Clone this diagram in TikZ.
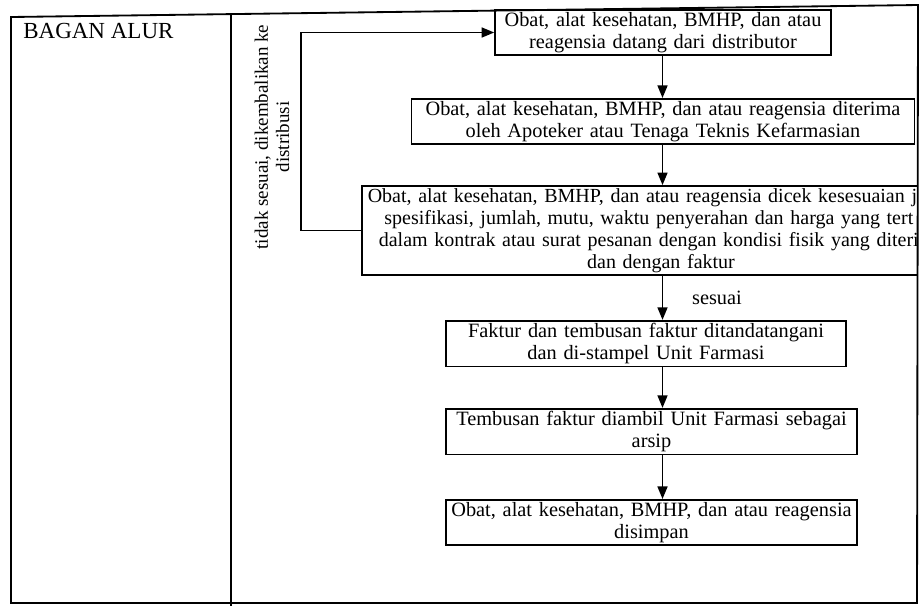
\documentclass[tikz,border=0pt]{standalone}
\usepackage{fontspec}
\setmainfont{Liberation Serif}
\usetikzlibrary{arrows.meta,positioning}

\tikzset{
  langkah/.style={draw, line width=1pt, align=center, inner xsep=2pt,
    inner ysep=1.5pt, font=\fontsize{12.2}{13.2}\selectfont},
  panah/.style={-{Triangle[length=7.5pt,width=6pt]}, line width=0.9pt},
}

\begin{document}
\begin{tikzpicture}[x=0.6pt,y=-0.6pt]
  \useasboundingbox (0,0) rectangle (924,606);
  % tabel
  \draw[line width=1.1pt] (11,17) -- (918,5) -- (917,603) -- (11,603) -- cycle;
  \draw[line width=1.1pt] (231,14) -- (231,606);
  \node[anchor=west, inner sep=0pt, font=\fontsize{13.8}{15}\selectfont] (judul) at (23,31) {BAGAN ALUR};

  % langkah-langkah
  \node[langkah, text width=197.6pt] (datang) at (663,32.5)
    {Obat, alat kesehatan, BMHP, dan atau\\ reagensia datang dari distributor};
  \node[langkah, text width=297.8pt] (terima) at (663,121.5)
    {Obat, alat kesehatan, BMHP, dan atau reagensia diterima\\ oleh Apoteker atau Tenaga Teknis Kefarmasian};
  \begin{scope}
    \clip (0,0) rectangle (917.5,606);
    \node[langkah, text width=354.8pt, font=\fontsize{12}{13.2}\selectfont] (cek) at (661,230.5)
      {Obat, alat kesehatan, BMHP, dan atau reagensia dicek kesesuaian j\phantom{enis,}\\
       spesifikasi, jumlah, mutu, waktu penyerahan dan harga yang tert\phantom{era}\\
       dalam kontrak atau surat pesanan dengan kondisi fisik yang diteri\phantom{ma}\\
       dan dengan faktur};
  \end{scope}
  \node[langkah, text width=236pt] (faktur) at (646,343.5)
    {Faktur dan tembusan faktur ditandatangani\\ dan di-stampel Unit Farmasi};
  \node[langkah, text width=242.6pt] (arsip) at (651.5,431.5)
    {Tembusan faktur diambil Unit Farmasi sebagai\\ arsip};
  \node[langkah, text width=242.6pt] (simpan) at (651.5,522.5)
    {Obat, alat kesehatan, BMHP, dan atau reagensia\\ disimpan};

  % jalur tidak sesuai
  \node[rotate=90, align=center, font=\fontsize{11.4}{12.8}\selectfont] (tolak) at (272,137)
    {tidak sesuai, dikembalikan ke\\ distribusi};
  \coordinate (balik) at (301,0);
  \coordinate (jalur) at (662.5,0);

  % panah
  \draw[panah] (cek.west) -| (balik |- datang.west) -- (datang.west);
  \draw[panah] (jalur |- datang.south) -- (jalur |- terima.north);
  \draw[panah] (jalur |- terima.south) -- (jalur |- cek.north);
  \draw[panah] (jalur |- cek.south) -- node[right=14pt, font=\fontsize{12.2}{13.2}\selectfont] {sesuai} (jalur |- faktur.north);
  \draw[panah] (jalur |- faktur.south) -- (jalur |- arsip.north);
  \draw[panah] (jalur |- arsip.south) -- (jalur |- simpan.north);
\end{tikzpicture}
\end{document}
